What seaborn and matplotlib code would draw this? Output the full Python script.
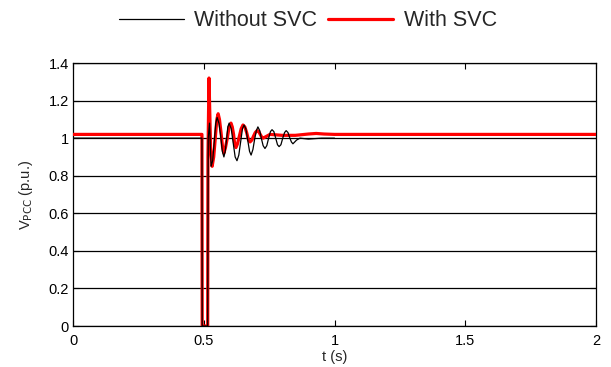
import matplotlib
matplotlib.use("Agg")
import matplotlib.pyplot as plt
import seaborn as sns
import pandas as pd

# ---- data ----
t_without = [0.0, 0.493, 0.494, 0.515, 0.517, 0.522, 0.528, 0.534, 0.540, 0.546, 0.551, 0.558, 0.564, 0.571, 0.577,
             0.582, 0.587, 0.592, 0.597, 0.605, 0.612, 0.620, 0.627, 0.634, 0.641, 0.648, 0.654, 0.661, 0.668, 0.675,
             0.681, 0.688, 0.694, 0.701, 0.707,
             0.714, 0.720, 0.727, 0.734, 0.741, 0.748, 0.755, 0.761, 0.768, 0.775, 0.782, 0.788, 0.795, 0.802, 0.809,
             0.815, 0.822, 0.828, 0.835, 0.841,
             0.855, 0.868, 0.90, 0.95, 1.0]
v_without = [1.0, 1.0, 0.0, 0.0, 1.0, 1.08, 0.85, 0.88, 0.98, 1.08, 1.11, 1.08, 1.02, 0.93, 0.90,
             0.93, 0.99, 1.06, 1.08, 1.05, 0.98, 0.90, 0.88, 0.91, 0.98, 1.05, 1.07, 1.05, 0.99, 0.93,
             0.91, 0.94, 0.99, 1.04, 1.06,
             1.04, 1.0, 0.96, 0.945, 0.96, 1.0, 1.035, 1.045, 1.035, 1.0, 0.965, 0.955, 0.965, 1.0, 1.03,
             1.04, 1.03, 1.005, 0.98, 0.97,
             0.99, 1.0, 0.995, 1.0, 1.0]

t_with = [0.0, 0.493, 0.494, 0.515, 0.516, 0.520, 0.526, 0.532, 0.538, 0.544, 0.550, 0.555, 0.560, 0.566,
          0.572, 0.577, 0.583, 0.590, 0.597, 0.604, 0.609, 0.614, 0.618, 0.623, 0.629, 0.636, 0.643, 0.650,
          0.657, 0.664, 0.671, 0.677, 0.684, 0.690, 0.697,
          0.704, 0.710, 0.716, 0.722, 0.727, 0.740, 0.753, 0.80, 0.85, 0.90, 0.93, 0.96,
          1.0, 1.2, 1.5, 2.0]
v_with = [1.02, 1.02, 0.0, 0.0, 0.9, 1.32, 0.95, 0.85, 0.90, 1.0, 1.10, 1.13, 1.10, 1.03,
          0.95, 0.92, 0.95, 1.0, 1.06, 1.08, 1.06, 1.02, 0.97, 0.95, 0.97, 1.01, 1.05, 1.07,
          1.06, 1.03, 0.99, 0.98, 0.99, 1.01, 1.03,
          1.04, 1.035, 1.02, 1.005, 1.0, 1.01, 1.02, 1.015, 1.015, 1.022, 1.025, 1.022,
          1.02, 1.02, 1.02, 1.02]

x_ticks = [0, 0.5, 1, 1.5, 2]
x_tick_labels = ["0", "0.5", "1", "1.5", "2"]
y_ticks = [0, 0.2, 0.4, 0.6, 0.8, 1.0, 1.2, 1.4]
y_tick_labels = ["0", "0.2", "0.4", "0.6", "0.8", "1", "1.2", "1.4"]

sns.set_theme(style="white")
plt.rcParams["font.family"] = ["Liberation Sans", "DejaVu Sans"]

fig = plt.figure(figsize=(6.11, 3.67), dpi=100)
ax = fig.add_axes([0.1195, 0.1117, 0.8560, 0.7166])

df_with = pd.DataFrame({"t": t_with, "v": v_with})
df_without = pd.DataFrame({"t": t_without, "v": v_without})

sns.lineplot(data=df_with, x="t", y="v", ax=ax, color="#ff0000", linewidth=2.3,
             sort=False, estimator=None, label="With SVC", zorder=3,
             solid_joinstyle="round")
sns.lineplot(data=df_without, x="t", y="v", ax=ax, color="black", linewidth=0.9,
             sort=False, estimator=None, label="Without SVC", zorder=4,
             solid_joinstyle="round")

ax.set_xlim(0, 2)
ax.set_ylim(0, 1.4)
ax.set_xticks(x_ticks)
ax.set_xticklabels(x_tick_labels)
ax.set_yticks(y_ticks)
ax.set_yticklabels(y_tick_labels)
ax.yaxis.grid(True, color="black", linewidth=0.9, linestyle="-")
ax.xaxis.grid(False)
ax.set_axisbelow(True)
for s in ax.spines.values():
    s.set_color("black")
    s.set_linewidth(0.9)
ax.tick_params(axis="both", direction="in", length=4, width=0.8, colors="black",
               labelsize=10.5, top=True, right=True, bottom=True, left=True, pad=3)
ax.tick_params(axis="x", pad=6)
ax.set_xlabel("t (s)", fontsize=10.5, labelpad=1)
ax.set_ylabel(r"V$_{\mathrm{PCC}}$ (p.u.)", fontsize=10.5, labelpad=10)

handles, labels = ax.get_legend_handles_labels()
order = [labels.index("Without SVC"), labels.index("With SVC")]
leg = ax.legend([handles[i] for i in order], [labels[i] for i in order],
                loc="center", bbox_to_anchor=(0.449, 1.160), ncol=2, frameon=False,
                fontsize=15.5, handlelength=3.0, handletextpad=0.5, columnspacing=0.5)

fig.savefig("out.png", dpi=100)
